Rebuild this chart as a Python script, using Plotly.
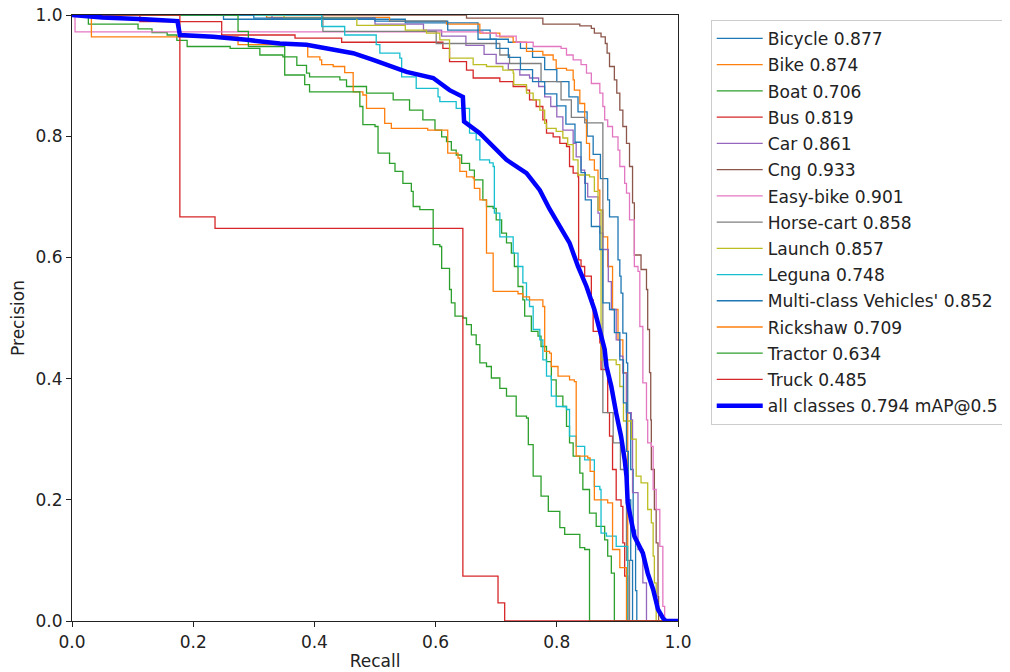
import plotly.graph_objects as go

# ---- data: (recall, precision) pairs ----
BICYCLE = [(0, 1.0), (0.25, 0.993), (0.55, 0.987), (0.67, 0.975), (0.69, 0.96), (0.72, 0.955), (0.74, 0.945),
           (0.76, 0.93), (0.78, 0.91), (0.80, 0.89), (0.82, 0.865), (0.835, 0.84), (0.85, 0.80), (0.86, 0.77),
           (0.872, 0.73), (0.884, 0.695), (0.887, 0.667), (0.901, 0.596), (0.904, 0.569), (0.906, 0.541),
           (0.909, 0.475), (0.915, 0.426), (0.917, 0.343), (0.922, 0.25), (0.926, 0.15), (0.93, 0.05),
           (0.932, 0.0), (1.0, 0.0)]
BIKE = [(0, 1.0), (0.321, 0.996), (0.524, 0.99), (0.618, 0.985), (0.673, 0.97), (0.706, 0.964), (0.728, 0.955),
        (0.750, 0.94), (0.777, 0.934), (0.794, 0.926), (0.799, 0.912), (0.816, 0.909), (0.827, 0.893),
        (0.829, 0.876), (0.838, 0.854), (0.846, 0.827), (0.849, 0.788), (0.854, 0.761), (0.862, 0.744),
        (0.868, 0.711), (0.871, 0.678), (0.876, 0.634), (0.884, 0.585), (0.892, 0.514), (0.901, 0.464),
        (0.909, 0.41), (0.915, 0.344), (0.917, 0.0), (1.0, 0.0)]
BOAT = [(0, 1.0), (0.027, 0.985), (0.109, 0.977), (0.132, 0.971), (0.157, 0.967), (0.173, 0.958), (0.19, 0.948),
        (0.261, 0.945), (0.310, 0.934), (0.348, 0.931), (0.371, 0.917), (0.387, 0.904), (0.392, 0.898),
        (0.442, 0.893), (0.453, 0.882), (0.486, 0.871), (0.530, 0.86), (0.557, 0.843), (0.579, 0.827),
        (0.599, 0.81), (0.610, 0.799), (0.618, 0.791), (0.626, 0.777), (0.634, 0.769), (0.643, 0.755),
        (0.656, 0.744), (0.664, 0.728), (0.678, 0.695), (0.684, 0.684), (0.695, 0.681), (0.700, 0.662),
        (0.709, 0.64), (0.717, 0.624), (0.725, 0.607), (0.730, 0.585), (0.736, 0.552), (0.744, 0.53),
        (0.747, 0.503), (0.758, 0.478), (0.769, 0.47), (0.774, 0.453), (0.783, 0.428), (0.791, 0.398),
        (0.799, 0.371), (0.810, 0.354), (0.816, 0.321), (0.821, 0.294), (0.827, 0.272), (0.838, 0.244),
        (0.843, 0.217), (0.854, 0.178), (0.865, 0.156), (0.879, 0.134), (0.884, 0.107), (0.890, 0.079),
        (0.895, 0.0), (1.0, 0.0)]
BUS = [(0, 1.0), (0.112, 0.989), (0.247, 0.967), (0.368, 0.962), (0.445, 0.955), (0.612, 0.945), (0.623, 0.923),
       (0.651, 0.909), (0.662, 0.896), (0.706, 0.89), (0.728, 0.882), (0.750, 0.876), (0.755, 0.86),
       (0.766, 0.849), (0.777, 0.827), (0.783, 0.805), (0.794, 0.799), (0.805, 0.788), (0.816, 0.783),
       (0.821, 0.75), (0.827, 0.739), (0.835, 0.733), (0.836, 0.596), (0.840, 0.585), (0.846, 0.569),
       (0.857, 0.53), (0.860, 0.478), (0.871, 0.459), (0.873, 0.415), (0.884, 0.344), (0.887, 0.305),
       (0.892, 0.25), (0.898, 0.2), (0.906, 0.189), (0.909, 0.129), (0.912, 0.074), (0.917, 0.0), (1.0, 0.0)]
CAR = [(0, 1.0), (0.33, 0.995), (0.5, 0.985), (0.58, 0.975), (0.61, 0.965), (0.65, 0.95), (0.68, 0.935),
       (0.70, 0.92), (0.72, 0.91), (0.739, 0.901), (0.755, 0.896), (0.77, 0.882), (0.78, 0.865), (0.79, 0.849),
       (0.80, 0.832), (0.81, 0.81), (0.827, 0.788), (0.832, 0.766), (0.84, 0.744), (0.846, 0.722),
       (0.851, 0.70), (0.868, 0.673), (0.871, 0.64), (0.876, 0.613), (0.885, 0.56), (0.890, 0.514),
       (0.898, 0.464), (0.904, 0.437), (0.909, 0.409), (0.915, 0.344), (0.923, 0.332), (0.925, 0.212),
       (0.934, 0.118), (0.942, 0.063), (0.948, 0.0), (1.0, 0.0)]
CNG = [(0, 1.0), (0.593, 1.0), (0.651, 0.995), (0.777, 0.985), (0.838, 0.982), (0.857, 0.978), (0.862, 0.970),
       (0.873, 0.964), (0.880, 0.953), (0.883, 0.937), (0.887, 0.915), (0.895, 0.893), (0.899, 0.871),
       (0.904, 0.843), (0.909, 0.816), (0.915, 0.788), (0.920, 0.75), (0.925, 0.69), (0.928, 0.604),
       (0.939, 0.58), (0.948, 0.547), (0.950, 0.481), (0.953, 0.41), (0.955, 0.332), (0.956, 0.25),
       (0.961, 0.184), (0.964, 0.129), (0.967, 0.04), (0.968, 0.0), (1.0, 0.0)]
EASY_BIKE = [(0, 1.0), (0.005, 0.972), (0.678, 0.97), (0.70, 0.965), (0.733, 0.955), (0.761, 0.948),
             (0.807, 0.945), (0.816, 0.934), (0.827, 0.926), (0.840, 0.918), (0.849, 0.904), (0.857, 0.887),
             (0.871, 0.871), (0.876, 0.849), (0.879, 0.827), (0.884, 0.816), (0.892, 0.799), (0.901, 0.777),
             (0.904, 0.75), (0.912, 0.722), (0.915, 0.706), (0.920, 0.662), (0.928, 0.585), (0.934, 0.577),
             (0.937, 0.486), (0.942, 0.393), (0.948, 0.332), (0.950, 0.294), (0.956, 0.288), (0.959, 0.217),
             (0.964, 0.184), (0.970, 0.123), (0.975, 0.024), (0.978, 0.0), (1.0, 0.0)]
HORSE_CART = [(0, 1.0), (0.414, 0.973), (0.601, 0.953), (0.706, 0.934), (0.722, 0.92), (0.774, 0.89),
              (0.807, 0.86), (0.824, 0.831), (0.846, 0.822), (0.876, 0.344), (0.893, 0.294), (0.905, 0.25),
              (0.915, 0.1), (0.92, 0.0), (1.0, 0.0)]
LAUNCH = [(0, 1.0), (0.35, 0.995), (0.47, 0.983), (0.55, 0.975), (0.585, 0.97), (0.607, 0.959), (0.623, 0.929),
          (0.662, 0.918), (0.684, 0.915), (0.711, 0.909), (0.728, 0.904), (0.729, 0.885), (0.750, 0.871),
          (0.761, 0.86), (0.772, 0.843), (0.780, 0.821), (0.783, 0.813), (0.799, 0.808), (0.810, 0.797),
          (0.818, 0.786), (0.827, 0.761), (0.835, 0.736), (0.854, 0.733), (0.862, 0.709), (0.868, 0.678),
          (0.873, 0.431), (0.898, 0.423), (0.904, 0.387), (0.910, 0.33), (0.923, 0.30), (0.931, 0.239),
          (0.939, 0.228), (0.950, 0.184), (0.956, 0.162), (0.959, 0.107), (0.961, 0.063), (0.964, 0.0),
          (1.0, 0.0)]
LEGUNA = [(0, 1.0), (0.412, 0.981), (0.45, 0.967), (0.502, 0.951), (0.508, 0.937), (0.541, 0.929),
          (0.544, 0.898), (0.568, 0.879), (0.604, 0.865), (0.607, 0.857), (0.634, 0.846), (0.656, 0.805),
          (0.667, 0.794), (0.673, 0.761), (0.689, 0.756), (0.695, 0.75), (0.697, 0.673), (0.706, 0.634),
          (0.728, 0.607), (0.736, 0.585), (0.744, 0.558), (0.750, 0.53), (0.755, 0.519), (0.761, 0.481),
          (0.772, 0.464), (0.777, 0.431), (0.783, 0.404), (0.791, 0.371), (0.799, 0.354), (0.816, 0.349),
          (0.821, 0.305), (0.832, 0.288), (0.846, 0.266), (0.862, 0.222), (0.871, 0.217), (0.873, 0.145),
          (0.882, 0.14), (0.898, 0.123), (0.915, 0.123), (0.917, 0.0), (1.0, 0.0)]
MULTI_CLASS = [(0, 1.0), (0.3, 0.995), (0.5, 0.99), (0.62, 0.975), (0.67, 0.96), (0.70, 0.945), (0.72, 0.93),
               (0.74, 0.91), (0.76, 0.89), (0.78, 0.87), (0.80, 0.85), (0.815, 0.82), (0.83, 0.79),
               (0.84, 0.74), (0.847, 0.695), (0.857, 0.651), (0.871, 0.613), (0.876, 0.525), (0.887, 0.514),
               (0.895, 0.476), (0.904, 0.431), (0.91, 0.36), (0.915, 0.28), (0.918, 0.2), (0.922, 0.1),
               (0.925, 0.0), (1.0, 0.0)]
RICKSHAW = [(0, 1.0), (0.032, 0.964), (0.274, 0.951), (0.389, 0.931), (0.409, 0.926), (0.412, 0.918),
            (0.431, 0.915), (0.45, 0.905), (0.464, 0.873), (0.480, 0.868), (0.486, 0.846), (0.516, 0.821),
            (0.527, 0.813), (0.587, 0.81), (0.620, 0.772), (0.637, 0.764), (0.640, 0.742), (0.651, 0.733),
            (0.662, 0.731), (0.664, 0.714), (0.673, 0.695), (0.684, 0.607), (0.695, 0.544), (0.736, 0.54),
            (0.744, 0.535), (0.755, 0.53), (0.777, 0.519), (0.780, 0.445), (0.788, 0.442), (0.791, 0.42),
            (0.802, 0.404), (0.821, 0.398), (0.829, 0.395), (0.832, 0.272), (0.851, 0.269), (0.855, 0.247),
            (0.862, 0.2), (0.884, 0.195), (0.892, 0.118), (0.904, 0.088), (0.915, 0.0), (1.0, 0.0)]
TRACTOR = [(0, 1.0), (0.274, 0.973), (0.291, 0.948), (0.351, 0.901), (0.384, 0.885), (0.392, 0.873),
           (0.475, 0.849), (0.480, 0.819), (0.500, 0.816), (0.505, 0.772), (0.524, 0.755), (0.533, 0.742),
           (0.546, 0.722), (0.560, 0.709), (0.563, 0.684), (0.574, 0.679), (0.596, 0.621), (0.607, 0.618),
           (0.610, 0.582), (0.623, 0.547), (0.626, 0.525), (0.632, 0.503), (0.645, 0.50), (0.651, 0.489),
           (0.659, 0.472), (0.667, 0.456), (0.673, 0.426), (0.684, 0.420), (0.692, 0.401), (0.706, 0.384),
           (0.717, 0.371), (0.733, 0.338), (0.750, 0.335), (0.753, 0.291), (0.761, 0.239), (0.774, 0.206),
           (0.786, 0.181), (0.805, 0.154), (0.813, 0.143), (0.838, 0.121), (0.846, 0.118), (0.854, 0.0),
           (1.0, 0.0)]
TRUCK = [(0, 1.0), (0.178, 0.667), (0.236, 0.648), (0.645, 0.074), (0.703, 0.03), (0.714, 0.0), (1.0, 0.0)]
ALL_CLASSES = [(0, 1.0), (0.05, 0.996), (0.12, 0.993), (0.174, 0.99), (0.178, 0.967), (0.233, 0.964),
               (0.288, 0.959), (0.343, 0.953), (0.387, 0.951), (0.425, 0.945), (0.464, 0.937), (0.497, 0.926),
               (0.552, 0.906), (0.596, 0.896), (0.623, 0.876), (0.645, 0.865), (0.647, 0.824), (0.673, 0.805),
               (0.695, 0.783), (0.717, 0.761), (0.750, 0.739), (0.772, 0.711), (0.788, 0.68), (0.805, 0.651),
               (0.821, 0.624), (0.835, 0.585), (0.849, 0.552), (0.862, 0.514), (0.873, 0.475), (0.879, 0.448),
               (0.882, 0.42), (0.890, 0.387), (0.898, 0.343), (0.906, 0.305), (0.912, 0.266), (0.915, 0.239),
               (0.917, 0.195), (0.928, 0.14), (0.942, 0.112), (0.950, 0.079), (0.959, 0.052), (0.967, 0.019),
               (0.975, 0.005), (0.98, 0.0), (1.0, 0.0)]

CLASS_NAMES = ["Bicycle", "Bike", "Boat", "Bus", "Car", "Cng", "Easy-bike", "Horse-cart", "Launch",
               "Leguna", "Multi-class Vehicles'", "Rickshaw", "Tractor", "Truck"]
CLASS_AP = [0.877, 0.874, 0.706, 0.819, 0.861, 0.933, 0.901, 0.858, 0.857, 0.748, 0.852, 0.709, 0.634, 0.485]
CLASS_CURVES = [BICYCLE, BIKE, BOAT, BUS, CAR, CNG, EASY_BIKE, HORSE_CART, LAUNCH, LEGUNA, MULTI_CLASS,
                RICKSHAW, TRACTOR, TRUCK]
MAP50 = 0.794

TAB10 = ["#1f77b4", "#ff7f0e", "#2ca02c", "#d62728", "#9467bd", "#8c564b", "#e377c2", "#7f7f7f",
         "#bcbd22", "#17becf"]

FONT = "DejaVu Sans, Verdana, sans-serif"

fig = go.Figure()
for i, (name, ap, curve) in enumerate(zip(CLASS_NAMES, CLASS_AP, CLASS_CURVES)):
    fig.add_trace(go.Scatter(
        x=[p[0] for p in curve], y=[p[1] for p in curve],
        mode="lines", line=dict(color=TAB10[i % 10], width=1.3, shape="hv"),
        name=f"{name} {ap:.3f}", legendgroup=f"g{i}",
    ))

fig.add_trace(go.Scatter(
    x=[p[0] for p in ALL_CLASSES], y=[p[1] for p in ALL_CLASSES],
    mode="lines", line=dict(color="#0000ff", width=4.5),
    name=f"all classes {MAP50:.3f} mAP@0.5", legendgroup="gall",
))

axis_common = dict(
    range=[0, 1], dtick=0.2, tickformat=".1f", showgrid=False, zeroline=False,
    showline=True, linecolor="#222222", linewidth=1.2, mirror=True,
    ticks="outside", ticklen=5, tickwidth=1.2, tickcolor="#222222", automargin=False,
    ticklabeloverflow="allow",
    tickfont=dict(family=FONT, size=17, color="#222222"),
)

# the page body adds an 8px offset, so the figure is 8px smaller than the window
fig.update_layout(
    width=1002, height=664,
    margin=dict(l=64, r=332, t=7, b=51, autoexpand=False),
    paper_bgcolor="white", plot_bgcolor="white",
    font=dict(family=FONT, size=17, color="#222222"),
    xaxis=dict(title=dict(text="Recall", font=dict(family=FONT, size=17), standoff=4), **axis_common),
    yaxis=dict(title=dict(text="Precision", font=dict(family=FONT, size=17), standoff=6), **axis_common),
    legend=dict(
        x=1.054, y=0.992, xanchor="left", yanchor="top",
        bordercolor="#cccccc", borderwidth=1, bgcolor="white",
        font=dict(family=FONT, size=17.1, color="#222222"),
        itemwidth=46, tracegroupgap=1,
    ),
    showlegend=True,
)

fig.write_html("out.html")
